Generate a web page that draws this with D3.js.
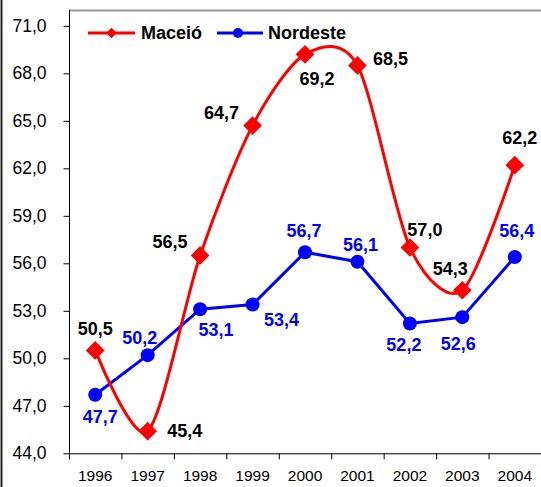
<!DOCTYPE html>
<html>
<head>
<meta charset="utf-8">
<script src="https://cdn.jsdelivr.net/npm/d3@7"></script>
<style>
  html, body { margin: 0; padding: 0; background: #fff; }
  svg { display: block; font-family: "Liberation Sans", Arial, sans-serif; }
</style>
</head>
<body>
<svg id="chart" width="541" height="487"></svg>
<script>
// Taxa por ano: Maceió x Nordeste
const years = ["1996", "1997", "1998", "1999", "2000", "2001", "2002", "2003", "2004"];
const maceio = [50.5, 45.4, 56.5, 64.7, 69.2, 68.5, 57.0, 54.3, 62.2];
const nordeste = [47.7, 50.2, 53.1, 53.4, 56.7, 56.1, 52.2, 52.6, 56.4];
const yTicks = [44, 47, 50, 53, 56, 59, 62, 65, 68, 71];
const seriesNames = ["Maceió", "Nordeste"];

// label placement per point: [dx, dy] of the text centre relative to the marker centre
const maceioLabelPos = [[0, -22], [37, 0], [-30, -14], [-31, -13], [12, 24], [33, -7], [15, -18], [-12, -22], [5, -27]];
const nordesteLabelPos = [[5, 22], [-8, -17], [16, 20], [29, 15.5], [-1, -22], [3, -17], [-6, 21], [-4, 27], [2, -26]];

const fmt = v => d3.format(".1f")(v).replace(".", ",");

const svg = d3.select("#chart");
const W = 541, H = 487;
const plotLeft = 69, plotRight = 541, plotTop = 10, plotBottom = 453.3;

const x = d3.scaleBand().domain(years).range([plotLeft, plotRight]).padding(0);
const y = d3.scaleLinear().domain([44, 72]).range([plotBottom, plotTop]);
const cx = d => x(d) + x.bandwidth() / 2;

// outer frame edge
svg.append("line")
  .attr("x1", 1.5).attr("x2", 1.5).attr("y1", 0).attr("y2", H)
  .attr("stroke", "#222").attr("stroke-width", 2);

// plot area top border
svg.append("line")
  .attr("x1", plotLeft).attr("x2", plotRight).attr("y1", plotTop + 0.5).attr("y2", plotTop + 0.5)
  .attr("stroke", "#999").attr("stroke-width", 2);

// y axis
const yAxis = d3.axisLeft(y).tickValues(yTicks).tickFormat(fmt).tickSizeOuter(0).tickSize(6).tickPadding(17);
const gy = svg.append("g").attr("transform", `translate(${plotLeft + 0.5},0)`).call(yAxis);
gy.select(".domain").attr("stroke", "#000").attr("d", `M0,${plotTop}V${plotBottom}`);
gy.selectAll(".tick line").attr("stroke", "#000");
gy.selectAll(".tick text").attr("font-size", 17.5).attr("fill", "#000")
  .attr("font-family", "Liberation Sans, Arial, sans-serif");

// x axis: labels centred in bands, ticks at band boundaries
const xAxis = d3.axisBottom(x).tickSize(0).tickPadding(17).tickSizeOuter(0);
const gx = svg.append("g").attr("transform", `translate(0,${plotBottom})`).call(xAxis);
gx.select(".domain").attr("stroke", "#000").attr("d", `M${plotLeft},0.5H${plotRight}`);
gx.selectAll(".tick text").attr("font-size", 15.5).attr("fill", "#000")
  .attr("font-family", "Liberation Sans, Arial, sans-serif");
gx.selectAll(".boundary").data(years).enter().append("line")
  .attr("class", "boundary")
  .attr("x1", d => x(d) + 0.5).attr("x2", d => x(d) + 0.5)
  .attr("y1", 0).attr("y2", 6).attr("stroke", "#000");

// Nordeste: straight segments with circles
const lineStraight = d3.line().x((d, i) => cx(years[i])).y(d => y(d));
svg.append("path").datum(nordeste)
  .attr("d", lineStraight).attr("fill", "none")
  .attr("stroke", "#0000FF").attr("stroke-width", 3);

// Maceió: smoothed curve with diamonds
const lineSmooth = d3.line().x((d, i) => cx(years[i])).y(d => y(d)).curve(d3.curveCardinal.tension(0.15));
svg.append("path").datum(maceio)
  .attr("d", lineSmooth).attr("fill", "none")
  .attr("stroke", "#FF0000").attr("stroke-width", 3);

const diamond = d3.symbol().type(d3.symbolSquare).size(175);
svg.selectAll(".mk-m").data(maceio).enter().append("path")
  .attr("class", "mk-m")
  .attr("d", diamond)
  .attr("transform", (d, i) => `translate(${cx(years[i])},${y(d)}) rotate(45)`)
  .attr("fill", "#FF0000");

svg.selectAll(".mk-n").data(nordeste).enter().append("circle")
  .attr("class", "mk-n")
  .attr("cx", (d, i) => cx(years[i])).attr("cy", d => y(d)).attr("r", 7)
  .attr("fill", "#0000FF");

// value labels
svg.selectAll(".lb-m").data(maceio).enter().append("text")
  .attr("class", "lb-m")
  .attr("x", (d, i) => cx(years[i]) + maceioLabelPos[i][0])
  .attr("y", (d, i) => y(d) + maceioLabelPos[i][1])
  .attr("dy", "0.35em").attr("text-anchor", "middle")
  .attr("font-size", 18).attr("font-weight", "bold").attr("fill", "#000")
  .text(fmt);

svg.selectAll(".lb-n").data(nordeste).enter().append("text")
  .attr("class", "lb-n")
  .attr("x", (d, i) => cx(years[i]) + nordesteLabelPos[i][0])
  .attr("y", (d, i) => y(d) + nordesteLabelPos[i][1])
  .attr("dy", "0.35em").attr("text-anchor", "middle")
  .attr("font-size", 18).attr("font-weight", "bold").attr("fill", "#0000FF")
  .text(fmt);

// legend
const legend = svg.append("g").attr("transform", "translate(88,33)");
const lg1 = legend.append("g");
lg1.append("line").attr("x1", 0).attr("x2", 47).attr("y1", 0).attr("y2", 0)
  .attr("stroke", "#FF0000").attr("stroke-width", 3);
lg1.append("path").attr("d", d3.symbol().type(d3.symbolSquare).size(55))
  .attr("transform", "translate(23.5,0) rotate(45)").attr("fill", "#FF0000");
lg1.append("text").attr("x", 53).attr("dy", "0.35em")
  .attr("font-size", 18).attr("font-weight", "bold").text(seriesNames[0]);

const lg2 = legend.append("g").attr("transform", "translate(129,0)");
lg2.append("line").attr("x1", 0).attr("x2", 46).attr("y1", 0).attr("y2", 0)
  .attr("stroke", "#0000FF").attr("stroke-width", 3);
lg2.append("circle").attr("cx", 21).attr("cy", 0).attr("r", 5).attr("fill", "#0000FF");
lg2.append("text").attr("x", 51).attr("dy", "0.35em")
  .attr("font-size", 18).attr("font-weight", "bold").text(seriesNames[1]);
</script>
</body>
</html>
